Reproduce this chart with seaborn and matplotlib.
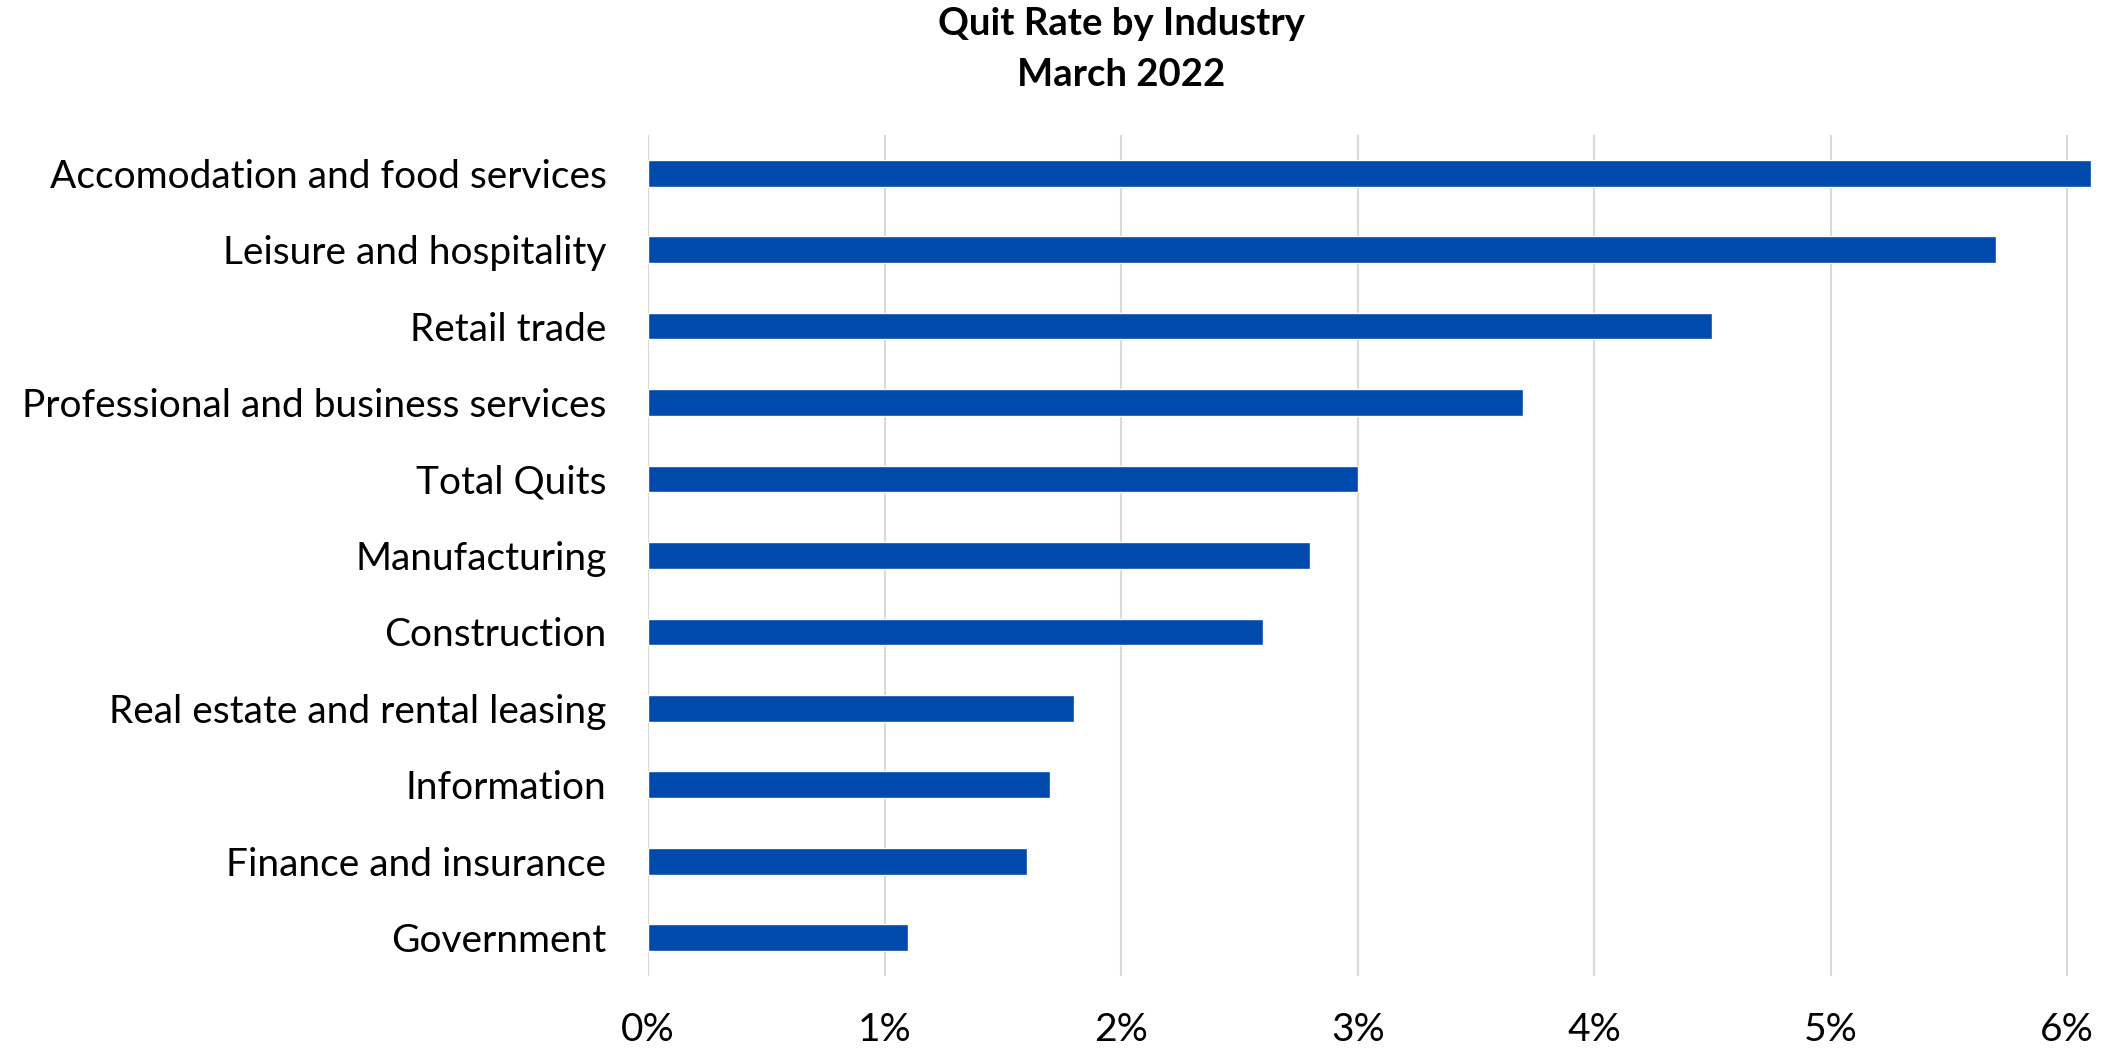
import pandas as pd
import matplotlib
matplotlib.use("Agg")
import matplotlib.pyplot as plt
from matplotlib.ticker import FuncFormatter, MultipleLocator
import seaborn as sns

# data (quit rate, %)
industries = [
    "Accomodation and food services",
    "Leisure and hospitality",
    "Retail trade",
    "Professional and business services",
    "Total Quits",
    "Manufacturing",
    "Construction",
    "Real estate and rental leasing",
    "Information",
    "Finance and insurance",
    "Government",
]
quit_rates = [6.1, 5.7, 4.5, 3.7, 3.0, 2.8, 2.6, 1.8, 1.7, 1.6, 1.1]

sns.set_style("white")
plt.rcParams['font.family'] = ['Lato', 'DejaVu Sans']

df = pd.DataFrame({'Industry': industries, 'Rate': quit_rates})

fig = plt.figure(figsize=(21.11, 10.54), dpi=100)
ax = fig.add_axes([0.307, 0.074, 0.6835, 0.798])

sns.barplot(data=df, x='Rate', y='Industry', color='#004AAC',
            width=0.35, saturation=1, ax=ax, zorder=3)

ax.set_xlim(0, 6.1)
ax.set_ylim(10.5, -0.5)
ax.xaxis.set_major_locator(MultipleLocator(1))
ax.xaxis.set_major_formatter(FuncFormatter(lambda v, p: f"{v:.0f}%"))
ax.grid(axis='x', color='#d9d9d9', linewidth=1.5, zorder=0)
ax.set_axisbelow(True)
for s in ax.spines.values():
    s.set_visible(False)
ax.set_xlabel('')
ax.set_ylabel('')
ax.tick_params(axis='both', length=0, labelsize=28, labelcolor='black')
ax.tick_params(axis='y', pad=30)
ax.tick_params(axis='x', pad=26)

# two-line title, centred over the chart area like the original
fig.text(0.531, 0.977, "Quit Rate by Industry", ha='center', va='center',
         fontsize=27.5, fontweight='bold', color='black')
fig.text(0.531, 0.929, "March 2022", ha='center', va='center',
         fontsize=27.5, fontweight='bold', color='black')

fig.savefig('out.png', dpi=100)
